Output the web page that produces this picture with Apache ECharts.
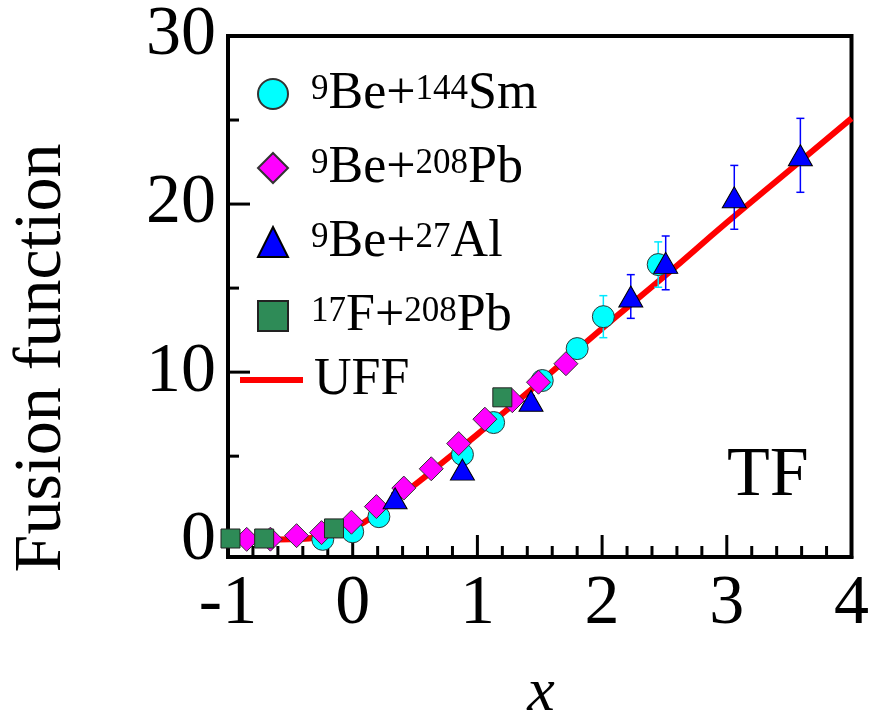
<!DOCTYPE html>
<html>
<head>
<meta charset="utf-8">
<script src="https://cdn.jsdelivr.net/npm/echarts@6/dist/echarts.min.js"></script>
<style>
  html, body { margin: 0; padding: 0; background: #fff; }
  #chart { width: 872px; height: 723px; }
</style>
</head>
<body>
<div id="chart"></div>
<script>
// values
const smX = [-0.24, 0.0, 0.21, 0.88, 1.13, 1.52, 1.80, 2.01, 2.45];
const smY = [0.05, 0.5, 1.4, 5.1, 7.0, 9.5, 11.4, 13.3, 16.4];
const smErr = [0, 0, 0, 0, 0, 0, 0, 1.25, 1.35];

const pbX = [-0.85, -0.66, -0.45, -0.25, -0.01, 0.19, 0.41, 0.63, 0.85, 1.06, 1.28, 1.49, 1.71];
const pbY = [0.05, 0.06, 0.27, 0.45, 1.07, 2.0, 3.1, 4.25, 5.75, 7.2, 8.3, 9.4, 10.5];

const alX = [0.34, 0.88, 1.43, 2.23, 2.51, 3.06, 3.59];
const alY = [2.5, 4.2, 8.3, 14.5, 16.5, 20.4, 22.9];
const alErr = [0.3, 0.3, 0.3, 1.3, 1.6, 1.9, 2.2];

const fX = [-0.98, -0.71, -0.15, 1.2];
const fY = [0.1, 0.1, 0.7, 8.5];

const uffX = [-1, -0.5, -0.25, 0, 0.25, 0.5, 0.75, 1, 1.5, 2, 2.5, 3, 3.5, 4];
const uffY = [0.0, 0.05, 0.2, 0.7, 1.9, 3.3, 4.8, 6.3, 9.4, 12.6, 15.7, 18.9, 22.0, 25.1];

// tick values
const xMajor = [-1, 0, 1, 2, 3, 4];
const xMinor = [-0.8, -0.6, -0.4, -0.2, 0.2, 0.4, 0.6, 0.8, 1.2, 1.4, 1.6, 1.8,
                2.2, 2.4, 2.6, 2.8, 3.2, 3.4, 3.6, 3.8];
const yMajor = [0, 10, 20, 30];
const yMinor = [5, 15, 25];

const serif = "'Liberation Serif', 'Times New Roman', serif";

const legendNames = {
  'Sm': '{sup|9}Be+{sup|144}Sm',
  'Pb': '{sup|9}Be+{sup|208}Pb',
  'Al': '{sup|9}Be+{sup|27}Al',
  'F': '{sup|17}F+{sup|208}Pb',
  'UFF': 'UFF'
};

function pairs(xs, ys) {
  return xs.map((x, i) => [x, ys[i]]);
}
function errs(xs, ys, es) {
  const out = [];
  xs.forEach((x, i) => {
    if (es[i] > 0) out.push([x, ys[i] - es[i], ys[i] + es[i]]);
  });
  return out;
}

function errorBar(color, z, data) {
  return {
    type: 'custom',
    z: z,
    silent: true,
    renderItem: function (params, api) {
      const lo = api.coord([api.value(0), api.value(1)]);
      const hi = api.coord([api.value(0), api.value(2)]);
      const w = 4;
      const style = { stroke: color, lineWidth: 1.5 };
      return {
        type: 'group',
        children: [
          { type: 'line', shape: { x1: lo[0], y1: lo[1], x2: hi[0], y2: hi[1] }, style: style },
          { type: 'line', shape: { x1: lo[0] - w, y1: lo[1], x2: lo[0] + w, y2: lo[1] }, style: style },
          { type: 'line', shape: { x1: hi[0] - w, y1: hi[1], x2: hi[0] + w, y2: hi[1] }, style: style }
        ]
      };
    },
    encode: { x: 0, y: [1, 2] },
    data: data
  };
}

// inward ticks, placed through the axis scales
function ticks(dir) {
  const data = [];
  if (dir === 'x') {
    xMajor.forEach(v => data.push([v, -1, 22]));
    xMinor.forEach(v => data.push([v, -1, 11]));
  } else {
    yMajor.forEach(v => data.push([-1, v, 22]));
    yMinor.forEach(v => data.push([-1, v, 11]));
  }
  return {
    type: 'custom',
    z: 1,
    silent: true,
    clip: false,
    renderItem: function (params, api) {
      const p = api.coord([api.value(0), api.value(1)]);
      const len = api.value(2);
      const shape = dir === 'x'
        ? { x1: p[0], y1: p[1], x2: p[0], y2: p[1] - len }
        : { x1: p[0], y1: p[1], x2: p[0] + len, y2: p[1] };
      return { type: 'line', shape: shape, style: { stroke: '#000', lineWidth: 3 } };
    },
    encode: { x: 0, y: 1 },
    data: data
  };
}

const legendText = {
  fontFamily: serif,
  fontSize: 52,
  lineHeight: 44,
  color: '#000',
  rich: {
    sup: { fontFamily: serif, fontSize: 35, lineHeight: 30, verticalAlign: 'top', color: '#000' }
  }
};

const blackLine = { color: '#000', width: 4 };

const chart = echarts.init(document.getElementById('chart'));

const option = {
  backgroundColor: '#fff',
  animation: false,
  grid: {
    left: 228, right: 18, top: 36, bottom: 166,
    show: true, borderColor: '#000', borderWidth: 4
  },
  legend: [{
    orient: 'vertical',
    left: 252,
    top: 63,
    itemWidth: 30,
    itemHeight: 30,
    itemGap: 22,
    data: ['Sm', 'Pb', 'Al', 'F'],
    formatter: name => legendNames[name],
    textStyle: Object.assign({ padding: [0, 0, 0, 18] }, legendText)
  }, {
    orient: 'vertical',
    left: 235,
    top: 349,
    itemWidth: 63,
    itemHeight: 6,
    data: [{ name: 'UFF', icon: 'rect' }],
    formatter: name => legendNames[name],
    textStyle: Object.assign({ padding: [0, 0, 0, 6] }, legendText)
  }],
  xAxis: {
    type: 'value',
    position: 'bottom',
    min: -1, max: 4, interval: 1,
    axisLine: { show: true, onZero: false, lineStyle: blackLine },
    axisTick: { show: false },
    axisLabel: { fontFamily: serif, fontSize: 70, color: '#000', margin: 13 },
    splitLine: { show: false }
  },
  yAxis: {
    type: 'value',
    position: 'left',
    min: -1, max: 30,
    axisLine: { show: true, onZero: false, lineStyle: blackLine },
    axisTick: { show: false },
    axisLabel: { fontFamily: serif, fontSize: 70, color: '#000', margin: 12, customValues: yMajor },
    splitLine: { show: false }
  },
  graphic: [{
    type: 'text',
    left: 727,
    top: 442,
    style: { text: 'TF', font: '70px ' + serif, fill: '#000' }
  }, {
    type: 'text',
    x: 42,
    y: 358,
    rotation: Math.PI / 2,
    style: {
      text: 'Fusion function',
      font: '68px ' + serif,
      fill: '#000',
      align: 'center',
      verticalAlign: 'middle'
    }
  }, {
    type: 'text',
    x: 541,
    y: 694,
    style: {
      text: 'x',
      font: 'italic 62px ' + serif,
      fill: '#000',
      align: 'center',
      verticalAlign: 'middle'
    }
  }],
  series: [
    ticks('x'),
    ticks('y'),
    {
      name: 'UFF',
      type: 'line',
      smooth: true,
      symbol: 'none',
      z: 1,
      lineStyle: { color: '#ff0000', width: 6 },
      itemStyle: { color: '#ff0000' },
      data: pairs(uffX, uffY)
    },
    errorBar('#00e8ff', 2, errs(smX, smY, smErr)),
    {
      name: 'Sm',
      type: 'scatter',
      symbol: 'circle',
      symbolSize: 22,
      z: 3,
      itemStyle: { color: '#00ffff', borderColor: '#333', borderWidth: 1, opacity: 1 },
      data: pairs(smX, smY)
    },
    {
      name: 'Pb',
      type: 'scatter',
      symbol: 'diamond',
      symbolSize: 24,
      z: 4,
      itemStyle: { color: '#ff00ff', borderColor: '#333', borderWidth: 1, opacity: 1 },
      data: pairs(pbX, pbY)
    },
    errorBar('#0000ff', 4, errs(alX, alY, alErr)),
    {
      name: 'Al',
      type: 'scatter',
      symbol: 'triangle',
      symbolSize: [24, 21],
      z: 5,
      itemStyle: { color: '#0000ff', borderColor: '#000', borderWidth: 1, opacity: 1 },
      data: pairs(alX, alY)
    },
    {
      name: 'F',
      type: 'scatter',
      symbol: 'rect',
      symbolSize: 19,
      z: 6,
      itemStyle: { color: '#2e8b57', borderColor: '#222', borderWidth: 1, opacity: 1 },
      data: pairs(fX, fY)
    }
  ]
};

chart.setOption(option);
</script>
</body>
</html>
